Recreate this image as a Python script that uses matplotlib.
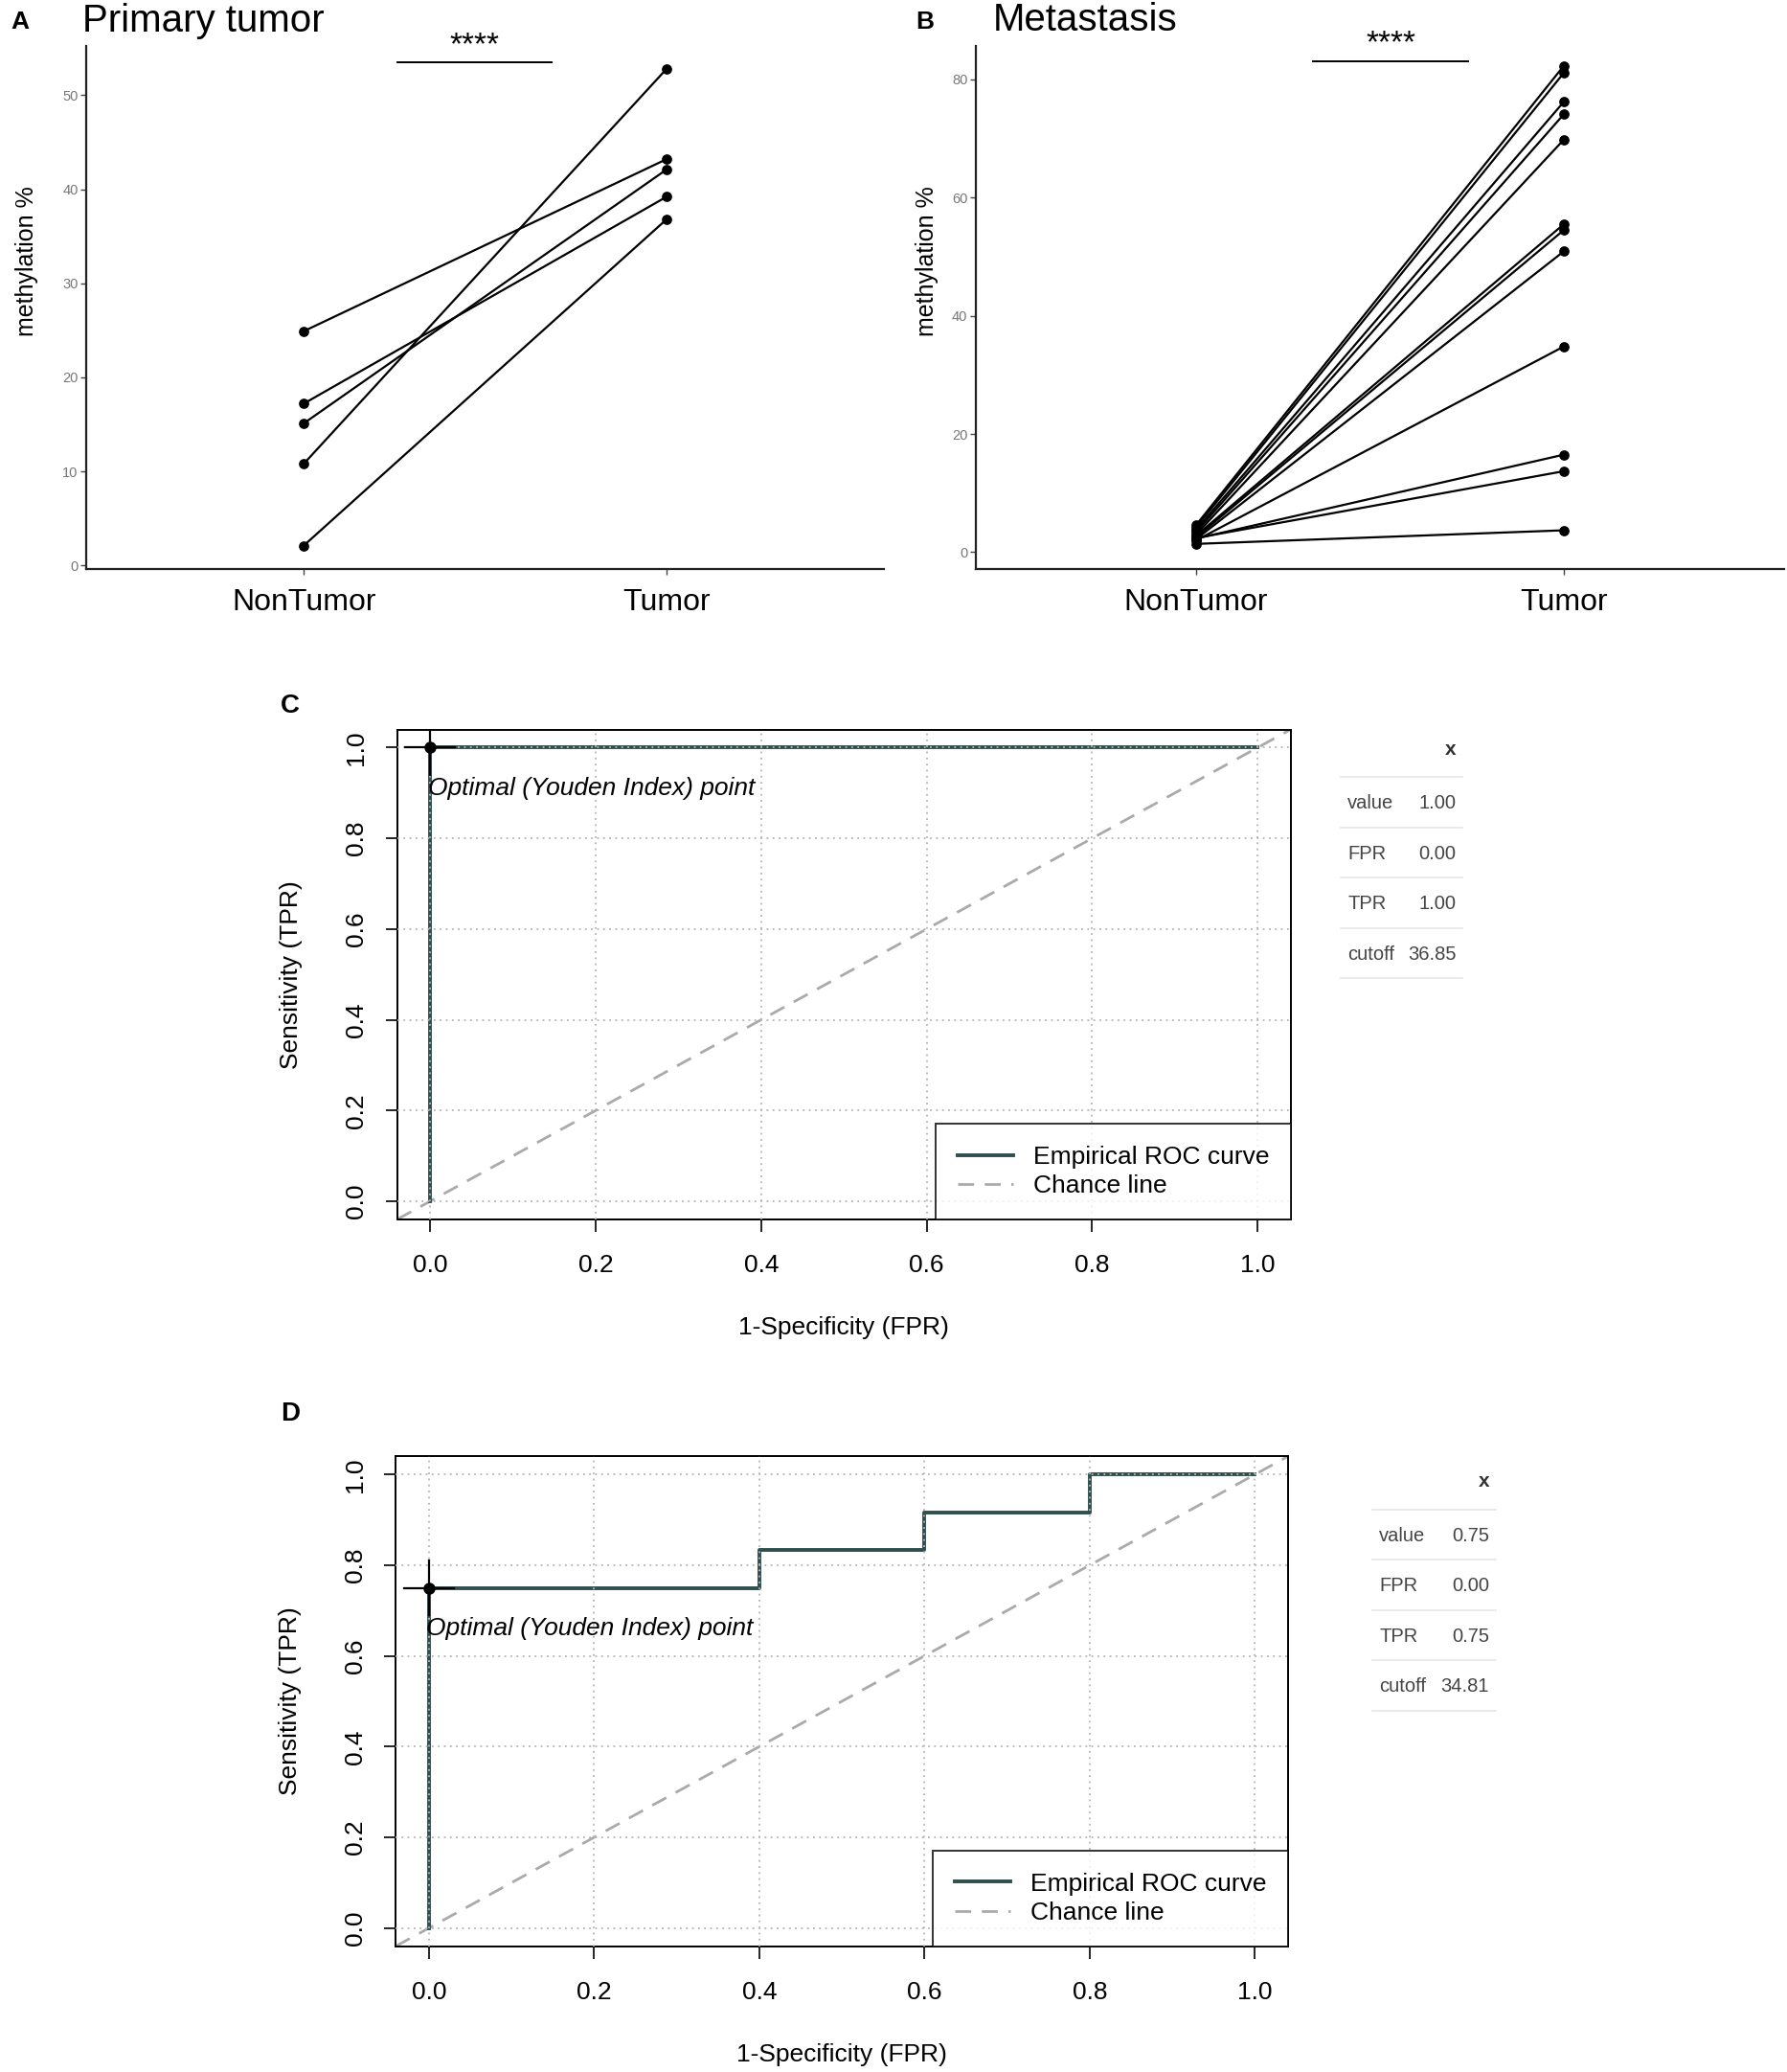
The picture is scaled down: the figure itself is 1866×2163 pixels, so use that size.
import numpy as np
import matplotlib
matplotlib.use("Agg")
import matplotlib.pyplot as plt
from matplotlib.lines import Line2D

# ---- data ----
groups = ["NonTumor", "Tumor"]

a_nontumor = [24.9, 17.2, 15.1, 10.8, 2.1]
a_tumor = [43.2, 39.2, 42.1, 52.8, 36.8]

b_nontumor = [4.6, 4.2, 3.8, 3.4, 3.0, 2.8, 2.5, 2.2, 2.0, 2.3, 2.4, 1.4]
b_tumor = [82.3, 81.1, 76.2, 74.1, 69.8, 55.5, 54.5, 50.9, 34.8, 16.5, 13.7, 3.7]

roc_c_fpr = [0.0, 0.0, 1.0]
roc_c_tpr = [0.0, 1.0, 1.0]
opt_c = (0.0, 1.0)

roc_d_fpr = [0.0, 0.0, 0.4, 0.6, 0.8, 1.0]
roc_d_tpr = [0.0, 0.75, 0.8333, 0.9167, 1.0, 1.0]
opt_d = (0.0, 0.75)

table_rows = ["value", "FPR", "TPR", "cutoff"]
table_c = ["1.00", "0.00", "1.00", "36.85"]
table_d = ["0.75", "0.00", "0.75", "34.81"]

# ---- figure ----
W, H = 1350.0, 1565.0
fig = plt.figure(figsize=(18.66, 21.63), dpi=100)
plt.rcParams['font.family'] = ['Liberation Sans', 'DejaVu Sans']


def rect(x0, y0, x1, y1):
    return [x0 / W, 1 - y1 / H, (x1 - x0) / W, (y1 - y0) / H]


def ftext(x, y, s, **kw):
    fig.text(x / W, 1 - y / H, s, **kw)


def paired(ax, nt, tu, ylim, yticks, bar, star_y):
    for a, b in zip(nt, tu):
        ax.plot([1, 2], [a, b], color='black', lw=1.6, zorder=2)
    ax.scatter([1] * len(nt), nt, s=45, color='black', zorder=3)
    ax.scatter([2] * len(tu), tu, s=45, color='black', zorder=3)
    ax.set_xlim(0.4, 2.6)
    ax.set_ylim(*ylim)
    ax.set_xticks([1, 2])
    ax.set_xticklabels(groups, fontsize=23, color='black')
    ax.set_yticks(yticks)
    ax.set_yticklabels([str(t) for t in yticks], fontsize=10.5, color='#777777')
    for s in ['top', 'right']:
        ax.spines[s].set_visible(False)
    for s in ['left', 'bottom']:
        ax.spines[s].set_linewidth(1.6)
        ax.spines[s].set_color('#222222')
    ax.tick_params(axis='both', length=4, width=1, color='#444444')
    ax.tick_params(axis='x', pad=10)
    ax.tick_params(axis='y', pad=2)
    ax.plot(bar[:2], [bar[2], bar[2]], color='black', lw=1.4, clip_on=False)
    ax.text(np.mean(bar[:2]), star_y, "****", ha='center', va='center',
            fontsize=24, clip_on=False)


# Panel A
axA = fig.add_axes(rect(65, 35, 668, 430))
paired(axA, a_nontumor, a_tumor, (-0.42, 55.2), [0, 10, 20, 30, 40, 50],
       (1.258, 1.684, 53.5), 55.3)
ftext(62, 16, "Primary tumor", fontsize=29, va='center')
ftext(8, 17, "A", fontsize=19, fontweight='bold', va='center')
ftext(20, 197, "methylation %", fontsize=18, rotation=90, ha='center', va='center')

# Panel B
axB = fig.add_axes(rect(737, 35, 1348, 430))
paired(axB, b_nontumor, b_tumor, (-2.9, 85.6), [0, 20, 40, 60, 80],
       (1.319, 1.739, 83.1), 86.0)
ftext(750, 15, "Metastasis", fontsize=29, va='center')
ftext(692, 17, "B", fontsize=19, fontweight='bold', va='center')
ftext(700, 197, "methylation %", fontsize=18, rotation=90, ha='center', va='center')


def roc_panel(box, fpr, tpr, opt, label, label_xy, xlab_y, table_x, table_top, vals):
    ax = fig.add_axes(rect(*box))
    ax.set_xlim(-0.04, 1.04)
    ax.set_ylim(-0.04, 1.04)
    ticks = [0.0, 0.2, 0.4, 0.6, 0.8, 1.0]
    ax.set_xticks(ticks)
    ax.set_yticks(ticks)
    ax.set_xticklabels([f"{t:.1f}" for t in ticks], fontsize=19)
    ax.set_yticklabels([f"{t:.1f}" for t in ticks], fontsize=19, rotation=90, va='center')
    ax.tick_params(axis='both', length=9, width=1.2)
    ax.tick_params(axis='x', pad=17)
    ax.tick_params(axis='y', pad=13)
    for s in ax.spines.values():
        s.set_linewidth(1.4)
    # chance line
    xx = np.array([-0.04, 1.04])
    ch, = ax.plot(xx, xx, color='#aaaaaa', lw=2, ls=(0, (6, 4)), zorder=1)
    roc, = ax.plot(fpr, tpr, drawstyle='steps-post', color='#2f4f4f', lw=2.8, zorder=2)
    # grid on top like R
    for t in ticks:
        ax.axhline(t, color='#b4b4b4', lw=1.3, ls=(0, (1, 2.5)), zorder=3)
        ax.axvline(t, color='#b4b4b4', lw=1.3, ls=(0, (1, 2.5)), zorder=3)
    # optimal point
    ox, oy = opt
    ax.plot([ox - 0.03, ox + 0.03], [oy, oy], color='black', lw=1.6, zorder=4)
    ax.plot([ox, ox], [oy - 0.06, oy + 0.06], color='black', lw=1.6, zorder=4)
    ax.plot([ox], [oy], 'o', color='black', ms=8, zorder=5)
    ax.text(ox - 0.003, oy - 0.09, "Optimal (Youden Index) point", fontsize=19,
            style='italic', ha='left', va='center', zorder=6)
    leg = ax.legend([roc, ch], ["Empirical ROC curve", "Chance line"], loc='lower right',
                    fontsize=19, frameon=True, fancybox=False, borderaxespad=0,
                    handlelength=2.2, borderpad=0.85, labelspacing=0.25)
    leg.get_frame().set_edgecolor('black')
    leg.get_frame().set_linewidth(1.4)
    leg.set_zorder(10)
    x0, y0, x1, y1 = box
    ftext(label_xy[0], label_xy[1], label, fontsize=20, fontweight='bold', va='center')
    ftext((x0 + x1) / 2, xlab_y, "1-Specificity (FPR)", fontsize=19, ha='center', va='center')
    ftext(x0 - 80, (y0 + y1) / 2, "Sensitivity (TPR)", fontsize=19, rotation=90,
          ha='center', va='center')
    # side table
    tl, tr = table_x
    ftext(tr - 5, table_top + 11, "x", fontsize=15, fontweight='bold', ha='right',
          va='center', color='#333333')
    for i in range(5):
        yy = table_top + 32 + i * 38
        fig.add_artist(Line2D([tl / W, tr / W], [1 - yy / H, 1 - yy / H],
                              color='#e6e6e6', lw=1.2))
    for i, (r, v) in enumerate(zip(table_rows, vals)):
        yy = table_top + 52 + i * 38
        ftext(tl + 5, yy, r, fontsize=14.5, ha='left', va='center', color='#444444')
        ftext(tr - 5, yy, v, fontsize=14.5, ha='right', va='center', color='#444444')
    return ax


roc_panel((300, 551, 975, 921), roc_c_fpr, roc_c_tpr, opt_c, "C", (212, 533), 1003,
          (1013, 1105), 555, table_c)
roc_panel((299, 1100, 973, 1470), roc_d_fpr, roc_d_tpr, opt_d, "D", (212, 1068), 1552,
          (1037, 1130), 1108, table_d)

fig.savefig("out.png", dpi=100, facecolor='white')
